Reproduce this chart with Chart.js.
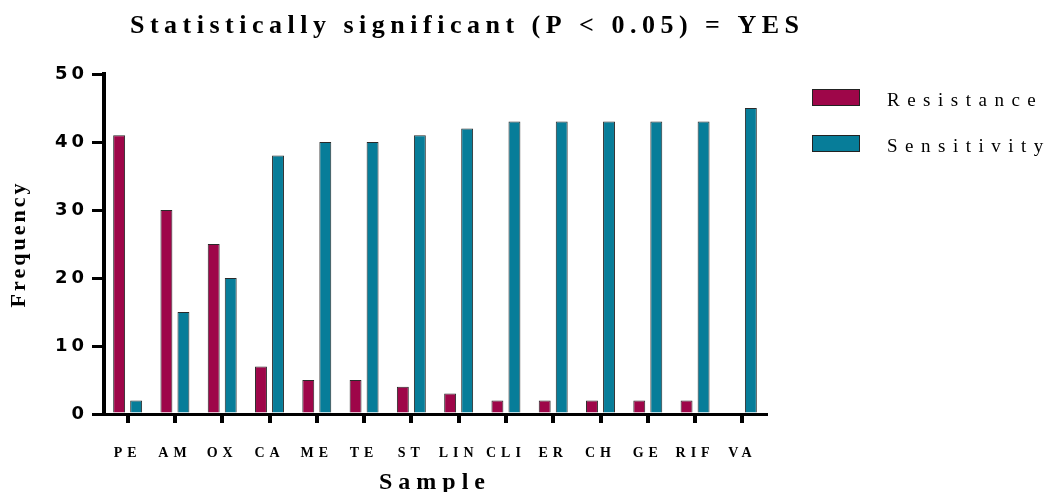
<!DOCTYPE html>
<html>
<head>
<meta charset="utf-8">
<script src="https://cdn.jsdelivr.net/npm/chart.js@4.4.1/dist/chart.umd.min.js"></script>
<style>
  html, body { margin: 0; padding: 0; background: #fff; }
  #wrap { width: 1045px; height: 492px; position: relative; }
</style>
</head>
<body>
<div id="wrap"><canvas id="chart"></canvas></div>
<script>
// Antibiotic susceptibility counts per drug
const categories = ['PE', 'AM', 'OX', 'CA', 'ME', 'TE', 'ST', 'LIN', 'CLI', 'ER', 'CH', 'GE', 'RIF', 'VA'];
const resistance = [41, 30, 25, 7, 5, 5, 4, 3, 2, 2, 2, 2, 2, 0];
const sensitivity = [2, 15, 20, 38, 40, 40, 41, 42, 43, 43, 43, 43, 43, 45];
const seriesNames = ['Resistance', 'Sensitivity'];
const yTicks = [0, 10, 20, 30, 40, 50];
const titleText = 'Statistically significant (P < 0.05) = YES';
const xTitle = 'Sample';
const yTitle = 'Frequency';

const SERIF = "'Liberation Serif', 'Times New Roman', serif";
const SANS = "'DejaVu Sans', sans-serif";

// letter spacing (px) per font size used in the drawing
const TRACKING = { 14: 5, 18: 4, 19: 7.5, 22: 3, 24: 6, 26: 5.5 };

const trackedText = {
  id: 'trackedText',
  beforeInit(chart) {
    const ctx = chart.ctx;
    const fill = ctx.fillText;
    ctx.fillText = function (text, x, y, maxWidth) {
      const m = /(\d+(?:\.\d+)?)px/.exec(this.font);
      const s = m ? (TRACKING[Math.round(parseFloat(m[1]))] || 0) : 0;
      this.letterSpacing = s + 'px';
      return maxWidth === undefined ? fill.call(this, text, x, y) : fill.call(this, text, x, y, maxWidth);
    };
  }
};

// title and legend, placed relative to the plot area
const headerAndKey = {
  id: 'headerAndKey',
  afterDraw(chart) {
    const { ctx, chartArea } = chart;
    ctx.save();
    ctx.fillStyle = '#000';
    ctx.textAlign = 'left';
    ctx.textBaseline = 'alphabetic';
    ctx.font = 'bold 26px ' + SERIF;
    ctx.fillText(titleText, chartArea.left + 26, chartArea.top - 41);

    chart.data.datasets.forEach((ds, i) => {
      const bx = chartArea.right + 46;
      const by = chartArea.top + 15 + i * 46;
      ctx.fillStyle = ds.backgroundColor;
      ctx.fillRect(bx, by, 48, 17);
      ctx.strokeStyle = '#222';
      ctx.lineWidth = 1;
      ctx.strokeRect(bx + 0.5, by + 0.5, 47, 16);
      ctx.fillStyle = '#000';
      ctx.font = '19px ' + SERIF;
      ctx.fillText(ds.label, bx + 75, by + 17);
    });
    ctx.restore();
  }
};

new Chart(document.getElementById('chart'), {
  type: 'bar',
  data: {
    labels: categories,
    datasets: [
      {
        label: seriesNames[0],
        data: resistance,
        backgroundColor: '#9e0649',
        borderColor: '#2a2a2a',
        borderWidth: 1,
        categoryPercentage: 0.72,
        barPercentage: 0.7
      },
      {
        label: seriesNames[1],
        data: sensitivity,
        backgroundColor: '#077d99',
        borderColor: '#2a2a2a',
        borderWidth: 1,
        categoryPercentage: 0.72,
        barPercentage: 0.7
      }
    ]
  },
  options: {
    responsive: true,
    maintainAspectRatio: false,
    animation: false,
    layout: { padding: { top: 74, right: 279, bottom: 0, left: 0 } },
    plugins: {
      legend: { display: false },
      title: { display: false },
      tooltip: { enabled: false }
    },
    scales: {
      x: {
        z: 1,
        offset: true,
        grid: {
          offset: false,
          drawOnChartArea: false,
          drawTicks: true,
          tickLength: 9,
          lineWidth: 4,
          tickColor: '#000'
        },
        border: { display: true, color: '#000', width: 3 },
        ticks: {
          color: '#000',
          padding: 22,
          maxRotation: 0,
          autoSkip: false,
          font: { family: SERIF, size: 14, weight: 'bold' }
        },
        title: {
          display: true,
          text: xTitle,
          color: '#000',
          padding: { top: 0, bottom: -3 },
          font: { family: SERIF, size: 24, weight: 'bold', lineHeight: 1 }
        },
        afterFit(scale) { scale.height = 78; }
      },
      y: {
        z: 1,
        min: yTicks[0],
        max: yTicks[yTicks.length - 1],
        afterBuildTicks(scale) { scale.ticks = yTicks.map(v => ({ value: v })); },
        grid: {
          drawOnChartArea: false,
          drawTicks: true,
          tickLength: 12,
          lineWidth: 3,
          tickColor: '#000'
        },
        border: { display: true, color: '#000', width: 4 },
        ticks: {
          color: '#000',
          padding: 4,
          font: { family: SANS, size: 18, weight: 'bold' }
        },
        title: {
          display: true,
          text: yTitle,
          color: '#000',
          padding: { top: 8, bottom: 0 },
          font: { family: SERIF, size: 22, weight: 'bold', lineHeight: 1 }
        },
        afterFit(scale) { scale.width = 104; }
      }
    }
  },
  plugins: [trackedText, headerAndKey]
});
</script>
</body>
</html>
